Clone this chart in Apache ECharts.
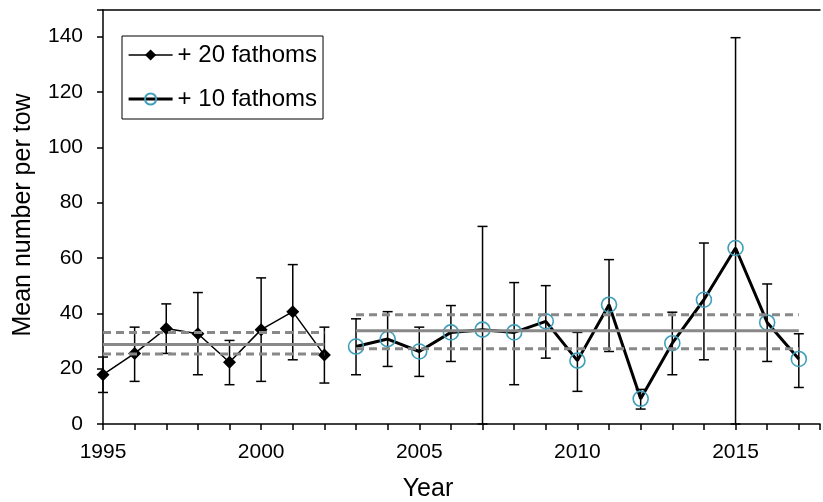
<!DOCTYPE html>
<html>
<head>
<meta charset="utf-8">
<script src="https://cdn.jsdelivr.net/npm/echarts@6/dist/echarts.min.js"></script>
<style>html,body{margin:0;padding:0;background:#fff}#c{width:823px;height:502px}</style>
</head>
<body>
<div id="c"></div>
<script>
// ---- data ----
const years20 = [1995, 1996, 1997, 1998, 1999, 2000, 2001, 2002];
const mean20  = [17.8, 25.5, 34.5, 32.6, 22.3, 34.1, 40.6, 24.9];
const low20   = [11.4, 15.4, 25.5, 17.8, 14.2, 15.4, 23.2, 14.8];
const high20  = [24.2, 35.0, 43.4, 47.5, 30.2, 52.8, 57.6, 35.0];

const years10 = [2003, 2004, 2005, 2006, 2007, 2008, 2009, 2010, 2011, 2012, 2013, 2014, 2015, 2016, 2017];
const mean10  = [28.0, 30.7, 26.2, 33.1, 34.1, 33.1, 37.1, 22.9, 43.1, 9.1, 29.2, 44.9, 63.6, 36.7, 23.5];
const low10   = [17.8, 20.8, 17.2, 22.6, 0.0, 14.2, 23.8, 11.8, 26.2, 5.4, 17.8, 23.2, 0.0, 22.6, 13.2];
const high10  = [38.0, 40.6, 35.0, 42.8, 71.4, 51.1, 50.0, 33.1, 59.4, 12.5, 40.4, 65.4, 139.6, 50.6, 32.6];

// period averages with confidence bounds [start, end, mean, lower, upper]
const period20 = [1995, 2002, 28.7, 25.3, 33.1];
const period10 = [2003, 2017, 33.7, 27.2, 39.5];

const seriesNames = ['+ 20 fathoms', '+ 10 fathoms'];
const xTitle = 'Year';
const yTitle = 'Mean number per tow';

// ---- build ----
const FONT = 'Liberation Sans, Arial, sans-serif';
const pts = (xs, ys) => xs.map((x, i) => [x, ys[i]]);
const errs = (xs, lo, hi) => xs.map((x, i) => [x, lo[i], hi[i]]);
const hline = (p, v) => [[p[0], v], [p[1], v]];

function errorBar(params, api) {
  const x = api.value(0);
  const a = api.coord([x, api.value(1)]);
  const b = api.coord([x, api.value(2)]);
  const cw = 5;
  const st = { stroke: '#000', lineWidth: 1.5 };
  return {
    type: 'group',
    children: [
      { type: 'line', shape: { x1: a[0], y1: a[1], x2: b[0], y2: b[1] }, style: st },
      { type: 'line', shape: { x1: a[0] - cw, y1: a[1], x2: a[0] + cw, y2: a[1] }, style: st },
      { type: 'line', shape: { x1: b[0] - cw, y1: b[1], x2: b[0] + cw, y2: b[1] }, style: st }
    ]
  };
}

const grey = '#888888';
function meanLine(data, dashed) {
  return {
    type: 'line', data: data, symbol: 'none', silent: true, z: 5,
    lineStyle: { color: grey, width: 3, type: dashed ? [8, 5] : 'solid' },
    animation: false
  };
}

const chart = echarts.init(document.getElementById('c'), null, { renderer: 'canvas' });
chart.setOption({
  animation: false,
  textStyle: { fontFamily: FONT },
  grid: { left: 103, right: 0, top: 10, bottom: 78, containLabel: false },
  legend: {
    data: [
      { name: seriesNames[0], lineStyle: { width: 1.5, color: '#000' } },
      { name: seriesNames[1], lineStyle: { width: 3.2, color: '#000' } }
    ],
    orient: 'vertical',
    left: 122, top: 36,
    padding: [6, 6, 7, 5],
    borderColor: '#000', borderWidth: 1,
    itemWidth: 44, itemHeight: 14, itemGap: 18,
    textStyle: { fontFamily: FONT, fontSize: 24, color: '#000', lineHeight: 26 }
  },
  xAxis: [{
    type: 'value', min: 1995, max: 2017.67, interval: 1,
    axisLine: { show: true, onZero: false, lineStyle: { color: '#000', width: 1.5 } },
    axisTick: { show: true, inside: false, length: 6, lineStyle: { color: '#000', width: 1.5 } },
    axisLabel: { margin: 18, fontSize: 21, color: '#000', fontFamily: FONT,
      formatter: v => (Math.abs(v % 5) < 1e-6 ? String(v) : '') },
    splitLine: { show: false }
  }, {
    type: 'value', min: 1995, max: 2017.67, position: 'top',
    axisLine: { show: true, onZero: false, lineStyle: { color: '#000', width: 1.5 } },
    axisTick: { show: false }, axisLabel: { show: false }, splitLine: { show: false }
  }],
  yAxis: {
    type: 'value', min: 0, max: 149.6, interval: 20,
    axisLine: { show: true, onZero: false, lineStyle: { color: '#000', width: 1.5 } },
    axisTick: { show: true, inside: false, length: 6, lineStyle: { color: '#000', width: 1.5 } },
    axisLabel: { margin: 20, fontSize: 21, color: '#000', fontFamily: FONT,
      formatter: v => (Math.abs(v % 20) < 1e-6 ? String(v) : '') },
    splitLine: { show: false }
  },
  graphic: [
    { type: 'text', x: 428, y: 489, style: { text: xTitle, font: '25px ' + FONT, fill: '#000', align: 'center', verticalAlign: 'middle' } },
    { type: 'text', x: 23, y: 215, rotation: Math.PI / 2, style: { text: yTitle, font: '25px ' + FONT, fill: '#000', align: 'center', verticalAlign: 'middle' } }
  ],
  series: [
    { type: 'custom', name: 'err20', renderItem: errorBar, data: errs(years20, low20, high20), encode: { x: 0, y: [1, 2] }, z: 1, silent: true },
    { type: 'custom', name: 'err10', renderItem: errorBar, data: errs(years10, low10, high10), encode: { x: 0, y: [1, 2] }, z: 1, silent: true },
    {
      name: seriesNames[0], type: 'line', data: pts(years20, mean20), z: 3,
      symbol: 'diamond', symbolSize: 13,
      lineStyle: { color: '#000', width: 1.5 },
      itemStyle: { color: '#000', borderColor: '#000', borderWidth: 0 }
    },
    {
      name: seriesNames[1], type: 'line', data: pts(years10, mean10), z: 3,
      symbol: 'circle', symbolSize: 15,
      lineStyle: { color: '#000', width: 3 },
      itemStyle: { color: 'rgba(0,0,0,0)', borderColor: '#3f9fba', borderWidth: 1.6 }
    },
    meanLine(hline(period20, period20[2]), false),
    meanLine(hline(period20, period20[3]), true),
    meanLine(hline(period20, period20[4]), true),
    meanLine(hline(period10, period10[2]), false),
    meanLine(hline(period10, period10[3]), true),
    meanLine(hline(period10, period10[4]), true)
  ]
});
</script>
</body>
</html>
